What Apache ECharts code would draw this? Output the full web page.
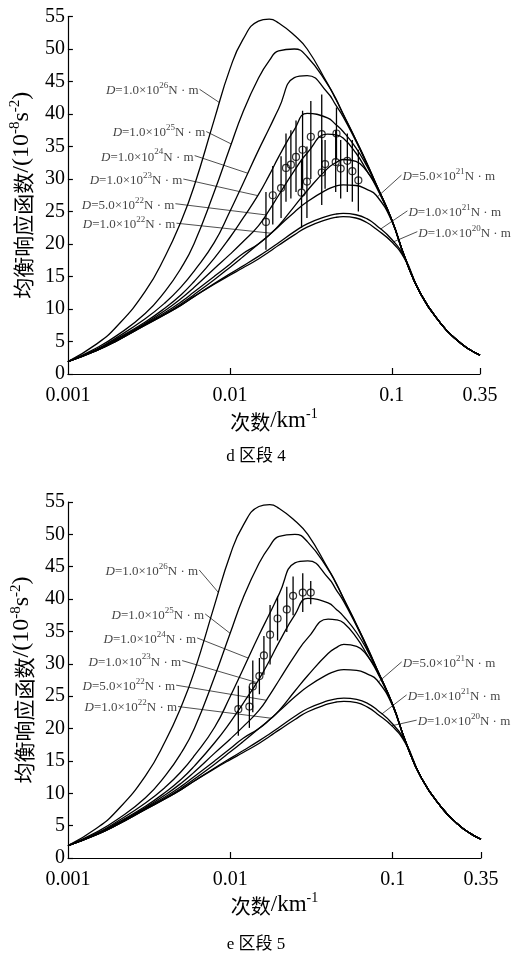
<!DOCTYPE html>
<html>
<head>
<meta charset="utf-8">
<script src="https://cdn.jsdelivr.net/npm/echarts@6/dist/echarts.min.js"></script>
<style>
  html, body { margin: 0; padding: 0; background: #fff; }
  #chart { width: 512px; height: 961px; }
</style>
</head>
<body>
<div id="chart"></div>
<script>
// Wavenumber grid (km^-1) shared by every theoretical admittance curve
const FREQS = [0.001, 0.0015, 0.002, 0.003, 0.004, 0.005, 0.006, 0.008, 0.01, 0.012, 0.015, 0.0175, 0.02, 0.025, 0.03, 0.04, 0.045, 0.05, 0.06, 0.07, 0.08, 0.1, 0.12, 0.15, 0.2, 0.25, 0.3, 0.35];

// Theoretical isostatic response curves (10^-8 s^-2) for each flexural rigidity D
const CURVE_1E26 = [1.9, 4.6, 7.3, 12.7, 18.2, 23.5, 28.8, 39.1, 46.9, 51.4, 54.3, 54.6, 54.0, 52.1, 50.0, 44.7, 42.4, 40.0, 36.0, 32.5, 29.2, 23.7, 18.0, 12.4, 7.8, 5.3, 3.8, 2.9];
const CURVE_1E25 = [1.9, 4.0, 5.9, 9.3, 12.8, 16.3, 20.0, 28.0, 34.8, 40.2, 45.5, 48.2, 49.7, 50.0, 48.8, 44.6, 42.3, 40.0, 36.0, 32.4, 29.2, 23.7, 18.0, 12.4, 7.8, 5.3, 3.8, 2.9];
const CURVE_1E24 = [1.9, 3.8, 5.6, 8.5, 11.0, 13.4, 15.8, 20.2, 25.0, 29.2, 34.4, 37.8, 40.8, 45.6, 45.9, 43.3, 41.4, 39.6, 35.8, 32.3, 29.1, 23.7, 18.0, 12.4, 7.8, 5.3, 3.8, 2.9];
const CURVE_1E23 = [1.9, 3.7, 5.4, 8.0, 10.2, 12.2, 14.2, 17.8, 21.0, 23.9, 27.6, 30.6, 33.4, 37.6, 40.1, 39.4, 38.4, 37.3, 34.8, 32.0, 29.1, 23.7, 18.0, 12.4, 7.8, 5.3, 3.8, 2.9];
const CURVE_5E22 = [1.9, 3.7, 5.3, 7.8, 9.8, 11.6, 13.3, 16.2, 18.4, 20.3, 22.8, 25.2, 27.5, 31.3, 34.0, 36.9, 36.8, 36.3, 34.0, 31.3, 28.8, 23.6, 18.0, 12.4, 7.8, 5.3, 3.8, 2.9];
const CURVE_1E22 = [1.9, 3.7, 5.2, 7.7, 9.5, 11.1, 12.6, 15.0, 16.9, 18.5, 20.0, 21.4, 22.8, 25.8, 28.2, 31.6, 32.5, 33.0, 32.7, 31.2, 29.0, 23.6, 18.0, 12.4, 7.8, 5.3, 3.8, 2.9];
const CURVE_5E21 = [1.9, 3.6, 5.1, 7.6, 9.3, 10.8, 12.2, 14.5, 16.4, 18.0, 20.0, 21.4, 22.7, 24.9, 26.5, 28.4, 28.9, 29.1, 29.0, 28.4, 27.5, 23.5, 18.0, 12.4, 7.8, 5.3, 3.8, 2.9];
const CURVE_1E21 = [1.9, 3.6, 5.1, 7.5, 9.2, 10.6, 11.9, 13.9, 15.4, 16.6, 18.1, 19.2, 20.2, 21.9, 23.1, 24.3, 24.6, 24.7, 24.5, 23.9, 22.9, 20.7, 17.9, 12.4, 7.8, 5.3, 3.8, 2.9];
const CURVE_1E20 = [1.9, 3.6, 5.1, 7.5, 9.2, 10.6, 11.9, 13.8, 15.2, 16.3, 17.7, 18.8, 19.8, 21.4, 22.6, 23.8, 24.1, 24.2, 24.0, 23.3, 22.3, 20.3, 17.7, 12.4, 7.8, 5.3, 3.8, 2.9];

const CURVES = [CURVE_1E26, CURVE_1E25, CURVE_1E24, CURVE_1E23, CURVE_5E22, CURVE_1E22, CURVE_5E21, CURVE_1E21, CURVE_1E20];
const D_MANTISSA = ['1.0', '1.0', '1.0', '1.0', '5.0', '1.0', '5.0', '1.0', '1.0'];
const D_EXPONENT = ['26', '25', '24', '23', '22', '22', '21', '21', '20'];

// Observed admittance, section 4: wavenumber, value, error-bar low, error-bar high
const OBS4_FREQ = [0.0167, 0.0184, 0.0207, 0.0222, 0.0238, 0.0256, 0.0281, 0.0277, 0.0299, 0.0316, 0.0369, 0.0369, 0.0387, 0.0455, 0.045, 0.0483, 0.0531, 0.057, 0.0621];
const OBS4_VAL  = [23.4, 27.5, 28.6, 31.7, 32.2, 33.4, 34.5, 27.9, 29.6, 36.5, 36.9, 31.0, 32.3, 37.0, 32.6, 31.6, 32.8, 31.2, 29.8];
const OBS4_LOW  = [19.1, 23.0, 24.0, 26.5, 27.0, 28.0, 28.5, 22.5, 24.0, 30.0, 31.0, 26.0, 28.5, 33.0, 28.0, 27.0, 28.0, 26.5, 25.0];
const OBS4_HIGH = [28.0, 32.0, 33.5, 37.0, 37.5, 39.0, 40.5, 33.0, 35.0, 42.0, 43.0, 36.0, 36.0, 41.0, 37.5, 36.0, 37.0, 36.0, 34.5];

// Observed admittance, section 5
const OBS5_FREQ = [0.0112, 0.0131, 0.01375, 0.0151, 0.0161, 0.01757, 0.01954, 0.02227, 0.02435, 0.02793, 0.03128];
const OBS5_VAL  = [23.0, 23.4, 26.5, 28.1, 31.3, 34.5, 37.0, 38.4, 40.5, 41.0, 41.0];
const OBS5_LOW  = [18.9, 20.1, 22.5, 25.3, 28.3, 29.9, 33.6, 34.9, 37.5, 38.0, 39.2];
const OBS5_HIGH = [26.6, 26.5, 30.5, 30.9, 34.3, 39.1, 40.4, 41.9, 43.5, 44.0, 42.8];

// Curve-label anchors [wavenumber, value] and the wavenumber where each leader meets its curve
const LABEL_ANCHOR_4 = [[0.0065, 43.8], [0.00715, 37.3], [0.00606, 33.6], [0.00516, 30.0], [0.00461, 26.2], [0.00468, 23.2], [0.1146, 30.6], [0.1247, 25.1], [0.1436, 21.9]];
const LEADER_END_4   = [0.00863, 0.0102, 0.0129, 0.01486, 0.0167, 0.01794, 0.0812, 0.0851, 0.1004];
const LABEL_ANCHOR_5 = [[0.00643, 44.5], [0.0070, 37.7], [0.00625, 34.0], [0.00505, 30.5], [0.00464, 26.7], [0.00477, 23.4], [0.1136, 30.3], [0.1219, 25.2], [0.1405, 21.3]];
const LEADER_END_5   = [0.00845, 0.00997, 0.0129, 0.01456, 0.0166, 0.01783, 0.0815, 0.0856, 0.0986];

const X_LABELS = [0.001, 0.01, 0.1, 0.35];
const X_TICKS = [0.01, 0.1, 0.35];

const SERIF = '"Liberation Serif", "Noto Sans CJK SC", serif';
const CJK = '"Noto Sans CJK SC", sans-serif';

// Value of a curve at wavenumber f, linear in log(f) between grid nodes
function curveAt(curve, f) {
  const lf = Math.log10(f);
  for (let i = 0; i < FREQS.length - 1; i++) {
    const a = Math.log10(FREQS[i]), b = Math.log10(FREQS[i + 1]);
    if (lf >= a && lf <= b) {
      const t = (lf - a) / (b - a);
      return curve[i] + t * (curve[i + 1] - curve[i]);
    }
  }
  return curve[curve.length - 1];
}

function labelText(i) {
  return '{it|D}{n|=' + D_MANTISSA[i] + '×10}{sup|' + D_EXPONENT[i] + '}{n|N · m}';
}

const labelRich = {
  it: { fontFamily: SERIF, fontStyle: 'italic', fontSize: 13, color: '#111', lineHeight: 16, verticalAlign: 'bottom' },
  n: { fontFamily: SERIF, fontSize: 13, color: '#111', lineHeight: 16, verticalAlign: 'bottom' },
  sup: { fontFamily: SERIF, fontSize: 9, color: '#111', lineHeight: 16, verticalAlign: 'top' }
};

const nameRich = {
  c: { fontFamily: CJK, fontSize: 20, color: '#000', lineHeight: 26, verticalAlign: 'bottom' },
  l: { fontFamily: SERIF, fontSize: 23, color: '#000', lineHeight: 26, verticalAlign: 'bottom' },
  sup: { fontFamily: SERIF, fontSize: 14, color: '#000', lineHeight: 26, verticalAlign: 'top' }
};

function panelSeries(idx, anchors, ends, obsF, obsV, obsL, obsH) {
  const out = [];
  CURVES.forEach((c) => {
    out.push({
      type: 'line', xAxisIndex: idx, yAxisIndex: idx,
      data: FREQS.map((f, j) => [f, c[j]]),
      showSymbol: false, smooth: 0.5, silent: true,
      lineStyle: { color: '#000', width: 1.3 },
      z: 3
    });
  });
  // leader lines from each label to its curve
  out.push({
    type: 'lines', coordinateSystem: 'cartesian2d', xAxisIndex: idx, yAxisIndex: idx,
    silent: true, z: 2,
    lineStyle: { color: '#222', width: 0.8, opacity: 1 },
    data: anchors.map((a, k) => ({ coords: [a, [ends[k], curveAt(CURVES[k], ends[k])]] }))
  });
  // curve labels (left block right-aligned, right block left-aligned)
  out.push({
    type: 'scatter', xAxisIndex: idx, yAxisIndex: idx, symbolSize: 0, silent: true, z: 5,
    data: anchors.map((a, k) => ({
      value: a,
      label: {
        show: true,
        position: k < 6 ? 'left' : 'right',
        distance: 1,
        formatter: labelText(k),
        rich: labelRich
      }
    }))
  });
  // error bars
  out.push({
    type: 'custom', xAxisIndex: idx, yAxisIndex: idx, silent: true, z: 4,
    data: obsF.map((f, k) => [f, obsL[k], obsH[k]]),
    renderItem: function (params, api) {
      const p1 = api.coord([api.value(0), api.value(1)]);
      const p2 = api.coord([api.value(0), api.value(2)]);
      return {
        type: 'line',
        shape: { x1: p1[0], y1: p1[1], x2: p2[0], y2: p2[1] },
        style: { stroke: '#000', lineWidth: 1.3 }
      };
    }
  });
  // observed values
  out.push({
    type: 'scatter', xAxisIndex: idx, yAxisIndex: idx, silent: true, z: 6,
    symbol: 'circle', symbolSize: 7,
    itemStyle: { color: 'rgba(255,255,255,0)', borderColor: '#000', borderWidth: 1.2 },
    data: obsF.map((f, k) => [f, obsV[k]])
  });
  return out;
}

function xAxisDef(idx) {
  return {
    type: 'log', logBase: 10, gridIndex: idx, min: 0.001, max: 0.35,
    axisLine: { lineStyle: { color: '#000', width: 1.2 } },
    axisTick: { show: true, inside: true, length: 6, customValues: X_TICKS, lineStyle: { color: '#000', width: 1.2 } },
    axisLabel: {
      customValues: X_LABELS, color: '#000', fontFamily: SERIF, fontSize: 20, margin: 12,
      formatter: function (v) { return String(+Number(v).toPrecision(3)); }
    },
    splitLine: { show: false }, minorTick: { show: false },
    name: '{c|次数}{l|/km}{sup|-1}', nameLocation: 'middle', nameGap: 32,
    nameTextStyle: { color: '#000', fontFamily: SERIF, fontSize: 20, rich: nameRich }
  };
}

function yAxisDef(idx) {
  return {
    type: 'value', gridIndex: idx, min: 0, max: 55, interval: 5,
    axisLine: { show: true, lineStyle: { color: '#000', width: 1.2 } },
    axisTick: { show: true, inside: true, length: 5, lineStyle: { color: '#000', width: 1.2 } },
    axisLabel: { color: '#000', fontFamily: SERIF, fontSize: 20, margin: 3 },
    splitLine: { show: false },
    name: '{c|均衡响应函数}{l|/(10}{sup|-8}{l|s}{sup|-2}{l|)}', nameLocation: 'middle', nameGap: 30,
    nameTextStyle: {
      color: '#000', fontFamily: SERIF, fontSize: 21,
      rich: {
        c: { fontFamily: CJK, fontSize: 21, color: '#000', lineHeight: 26, verticalAlign: 'bottom' },
        l: { fontFamily: SERIF, fontSize: 24, color: '#000', lineHeight: 26, verticalAlign: 'bottom' },
        sup: { fontFamily: SERIF, fontSize: 15, color: '#000', lineHeight: 26, verticalAlign: 'top' }
      }
    }
  };
}

const chart = echarts.init(document.getElementById('chart'), null, { renderer: 'canvas' });
chart.setOption({
  animation: false,
  backgroundColor: '#fff',
  title: [
    { text: 'd 区段 4', left: 'center', top: 443, textStyle: { fontFamily: SERIF, fontSize: 17, fontWeight: 'normal', color: '#000' } },
    { text: 'e 区段 5', left: 'center', top: 931, textStyle: { fontFamily: SERIF, fontSize: 17, fontWeight: 'normal', color: '#000' } }
  ],
  grid: [
    { left: 66, right: 32, top: 16.5, height: 357.5 },
    { left: 68, right: 31, top: 502, height: 356 }
  ],
  xAxis: [xAxisDef(0), xAxisDef(1)],
  yAxis: [yAxisDef(0), yAxisDef(1)],
  series: [].concat(
    panelSeries(0, LABEL_ANCHOR_4, LEADER_END_4, OBS4_FREQ, OBS4_VAL, OBS4_LOW, OBS4_HIGH),
    panelSeries(1, LABEL_ANCHOR_5, LEADER_END_5, OBS5_FREQ, OBS5_VAL, OBS5_LOW, OBS5_HIGH)
  )
});
</script>
</body>
</html>
